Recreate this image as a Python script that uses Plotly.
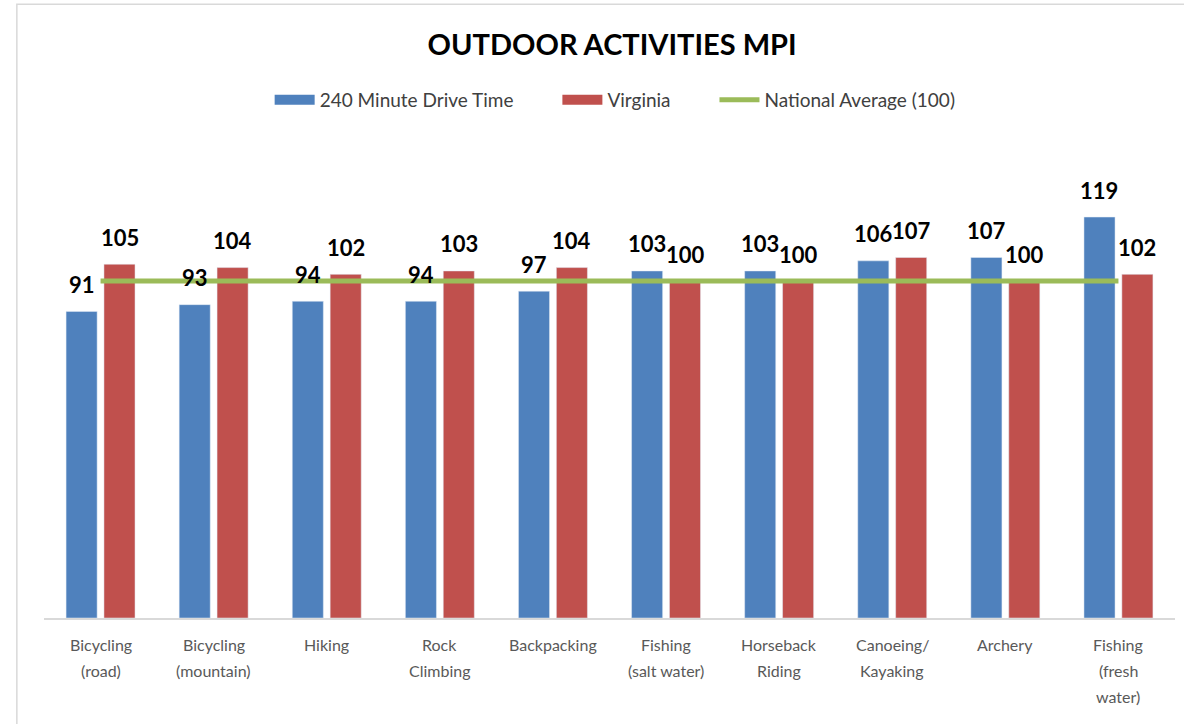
import plotly.graph_objects as go

categories = ["Bicycling (road)", "Bicycling (mountain)", "Hiking", "Rock Climbing",
              "Backpacking", "Fishing (salt water)", "Horseback Riding",
              "Canoeing/ Kayaking", "Archery", "Fishing (fresh water)"]
tick_labels = ["Bicycling<br>(road)", "Bicycling<br>(mountain)", "Hiking", "Rock<br>Climbing",
               "Backpacking", "Fishing<br>(salt water)", "Horseback<br>Riding",
               "Canoeing/<br>Kayaking", "Archery", "Fishing<br>(fresh<br>water)"]
drive_time = [91, 93, 94, 94, 97, 103, 103, 106, 107, 119]
virginia = [105, 104, 102, 103, 104, 100, 100, 107, 100, 102]
national = [100, 100, 100, 100, 100, 100, 100, 100, 100, 100]

BLUE = "#4F81BD"
RED = "#C0504D"
GREEN = "#9BBB59"
FONT = "Lato"
PAD = "&nbsp;" * 8

fig = go.Figure()
fig.add_trace(go.Bar(x=categories, y=drive_time, name="240 Minute Drive Time",
                     marker_color=BLUE, showlegend=False, legendgroup="a"))
fig.add_trace(go.Bar(x=categories, y=virginia, name="Virginia",
                     marker_color=RED, showlegend=False, legendgroup="b"))
# legend-only entries drawn as wide swatches (like the Excel legend)
fig.add_trace(go.Scatter(x=[None], y=[None], name="240 Minute Drive Time" + PAD, mode="lines",
                         line=dict(color=BLUE, width=10), legendgroup="a"))
fig.add_trace(go.Scatter(x=[None], y=[None], name="Virginia" + PAD, mode="lines",
                         line=dict(color=RED, width=10), legendgroup="b"))
fig.add_trace(go.Scatter(x=categories, y=national, name="National Average (100)",
                         mode="lines", line=dict(color=GREEN, width=5)))

annotations = []
for cat, b, r in zip(categories, drive_time, virginia):
    annotations.append(dict(x=cat, y=b, xref="x", yref="y", text=str(b), showarrow=False,
                            xshift=-19, yshift=27, yanchor="middle",
                            font=dict(family=FONT, size=22, color="black", weight="bold")))
    annotations.append(dict(x=cat, y=r, xref="x", yref="y", text=str(r), showarrow=False,
                            xshift=19, yshift=27, yanchor="middle",
                            font=dict(family=FONT, size=22, color="black", weight="bold")))

# category labels, one annotation per line to get Excel-like line spacing
for cat, lab in zip(categories, tick_labels):
    for k, line in enumerate(lab.split("<br>")):
        annotations.append(dict(x=cat, y=0, xref="x", yref="y", text=line, showarrow=False,
                                yshift=-(26 + 26 * k), yanchor="middle",
                                font=dict(family=FONT, size=16, color="#595959")))

fig.update_layout(
    width=1184, height=724,
    margin=dict(l=44, r=9, t=150, b=106),
    paper_bgcolor="white", plot_bgcolor="white",
    barmode="group", bargap=0.33, bargroupgap=0.18,
    title=dict(text="<b>OUTDOOR ACTIVITIES MPI</b>", x=0.517, xanchor="center",
               y=0.938, yanchor="middle",
               font=dict(family=FONT, size=29, color="black")),
    legend=dict(orientation="h", x=0.505, xanchor="center", y=1.107, yanchor="middle",
                font=dict(family=FONT, size=19, color="#404040"),
                traceorder="normal", itemwidth=40),
    annotations=annotations,
    font=dict(family=FONT),
    showlegend=True,
)
fig.update_xaxes(tickvals=categories, showticklabels=False, showline=True,
                 linecolor="#D9D9D9", linewidth=1.5, ticks="", showgrid=False)
fig.update_yaxes(range=[0, 138.9], visible=False, showgrid=False)

# outer chart border (top and left visible, rest off-canvas)
fig.add_shape(type="rect", xref="paper", yref="paper",
              x0=-0.024, x1=1.2, y0=-0.5, y1=1.3115,
              line=dict(color="#D9D9D9", width=1.5), fillcolor="rgba(0,0,0,0)", layer="below")

fig.write_html("out.html", config={"displayModeBar": False},
               post_script="document.body.style.margin='0';document.body.style.overflow='hidden';")
